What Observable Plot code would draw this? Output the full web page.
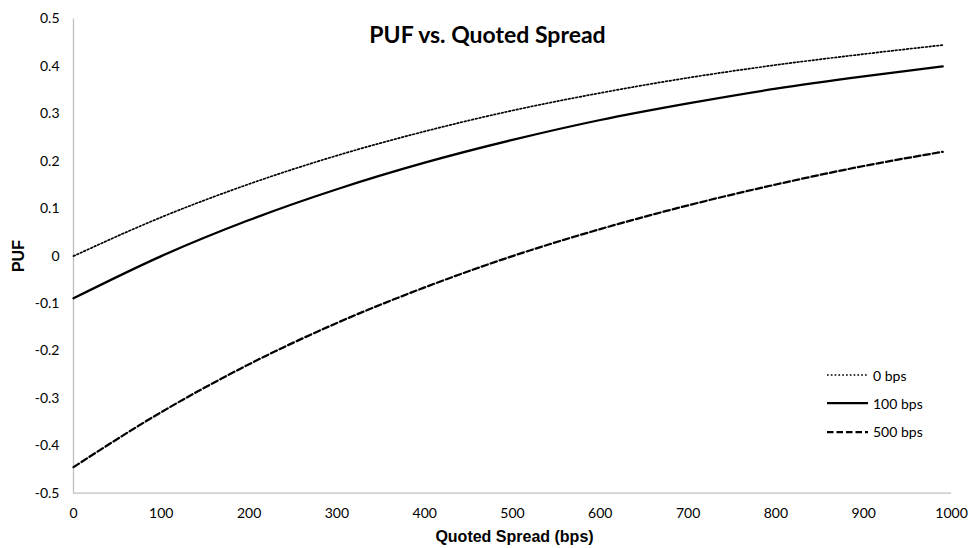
<!DOCTYPE html>
<html>
<head>
<meta charset="utf-8">
<script src="https://cdn.jsdelivr.net/npm/d3@7"></script>
<script src="https://cdn.jsdelivr.net/npm/@observablehq/plot@0.6"></script>
<style>
  html, body { margin: 0; padding: 0; background: #fff; }
  #wrap { position: relative; width: 969px; height: 548px; }
  #legend { position: absolute; left: 827px; top: 361px; font-family: Lato, "Open Sans", sans-serif; font-size: 14px; color: #000; }
  #legend .row { display: flex; align-items: center; height: 28.3px; }
  #legend svg { display: block; margin-right: 5px; }
</style>
</head>
<body>
<div id="wrap"><div id="legend"></div></div>
<script>
// Quoted spread (bps)
const spreads = [0, 100, 200, 300, 400, 500, 600, 700, 800, 900, 990];
// PUF for each coupon series
const puf0   = [0.000, 0.082, 0.152, 0.212, 0.263, 0.307, 0.344, 0.376, 0.403, 0.426, 0.445];
const puf100 = [-0.089, 0.000, 0.076, 0.141, 0.197, 0.245, 0.287, 0.322, 0.353, 0.379, 0.400];
const puf500 = [-0.445, -0.329, -0.228, -0.141, -0.066, 0.000, 0.057, 0.107, 0.151, 0.190, 0.220];
const seriesNames = ["0 bps", "100 bps", "500 bps"];
const xTicks = [0, 100, 200, 300, 400, 500, 600, 700, 800, 900, 1000];
const yTicks = [-0.5, -0.4, -0.3, -0.2, -0.1, 0, 0.1, 0.2, 0.3, 0.4, 0.5];
const titleText = "PUF vs. Quoted Spread";
const xLabel = "Quoted Spread (bps)";
const yLabel = "PUF";

const seriesValues = [puf0, puf100, puf500];
const styles = [
  {dash: "1.7 2.1", width: 1.7},
  {dash: null, width: 2.25},
  {dash: "6.5 3", width: 2.25}
];

const rows = [];
seriesNames.forEach((name, i) => {
  spreads.forEach((s, j) => rows.push({series: name, spread: s, puf: seriesValues[i][j]}));
});

const fmtY = d => d === 0 ? "0" : d.toFixed(1);

const chart = Plot.plot({
  width: 969,
  height: 548,
  marginLeft: 73,
  marginRight: 18,
  marginTop: 18.5,
  marginBottom: 55.3,
  style: {fontFamily: "Lato, 'Open Sans', sans-serif", fontSize: "14px", color: "#000", background: "#fff"},
  x: {domain: [0, 1000]},
  y: {domain: [-0.5, 0.5]},
  marks: [
    Plot.ruleX([0], {stroke: "#bfbfbf", strokeWidth: 1.3}),
    Plot.ruleY([-0.5], {stroke: "#bfbfbf", strokeWidth: 1.3}),
    ...seriesNames.map((name, i) => Plot.line(rows.filter(r => r.series === name), {
      x: "spread", y: "puf", curve: "monotone-x",
      stroke: "#000", strokeWidth: styles[i].width,
      strokeDasharray: styles[i].dash
    })),
    Plot.axisX(xTicks, {tickSize: 0, tickPadding: 15, label: null, fontSize: 14, tickFormat: d => String(d)}),
    Plot.axisY(yTicks, {tickSize: 0, tickPadding: 14, label: null, fontSize: 14, tickFormat: fmtY}),
    Plot.text([titleText], {frameAnchor: "top", lineAnchor: "middle", dx: -25, dy: 16.5, fontSize: 23, fontWeight: "bold", fill: "#000"}),
    Plot.text([xLabel], {frameAnchor: "bottom", lineAnchor: "middle", dx: 2, dy: 44, fontSize: 16, fontWeight: "bold", fontFamily: "'Liberation Sans', Arial, sans-serif", fill: "#000"}),
    Plot.text([yLabel], {frameAnchor: "left", textAnchor: "middle", lineAnchor: "middle", dx: -55, rotate: -90, fontSize: 16, fontWeight: "bold", fontFamily: "'Liberation Sans', Arial, sans-serif", fill: "#000"})
  ]
});

const wrap = document.getElementById("wrap");
wrap.insertBefore(chart, wrap.firstChild);

// legend
const legend = document.getElementById("legend");
seriesNames.forEach((name, i) => {
  const row = document.createElement("div");
  row.className = "row";
  const ns = "http://www.w3.org/2000/svg";
  const svg = document.createElementNS(ns, "svg");
  svg.setAttribute("width", "41");
  svg.setAttribute("height", "10");
  const line = document.createElementNS(ns, "line");
  line.setAttribute("x1", "0"); line.setAttribute("x2", "41");
  line.setAttribute("y1", "5"); line.setAttribute("y2", "5");
  line.setAttribute("stroke", "#000");
  line.setAttribute("stroke-width", styles[i].width);
  if (styles[i].dash) line.setAttribute("stroke-dasharray", styles[i].dash);
  svg.appendChild(line);
  row.appendChild(svg);
  const span = document.createElement("span");
  span.textContent = name;
  row.appendChild(span);
  legend.appendChild(row);
});
</script>
</body>
</html>
